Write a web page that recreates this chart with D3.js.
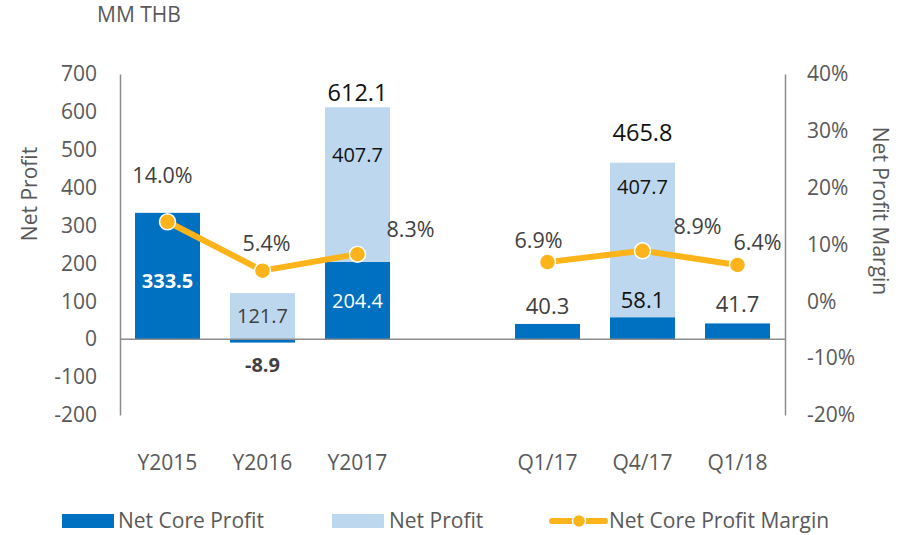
<!DOCTYPE html>
<html>
<head>
<meta charset="utf-8">
<script src="https://cdn.jsdelivr.net/npm/d3@7"></script>
<style>
  html, body { margin: 0; padding: 0; background: #fff; }
  svg { display: block; font-family: "Open Sans", sans-serif; }
</style>
</head>
<body>
<svg id="chart" width="904" height="535"></svg>
<script>
// Periods (the blank slot separates the yearly and quarterly groups)
const categories = ["Y2015", "Y2016", "Y2017", "", "Q1/17", "Q4/17", "Q1/18"];
// Net core profit (MM THB)
const netCoreProfit = [333.5, -8.9, 204.4, null, 40.3, 58.1, 41.7];
// Extra amount stacked on top to reach net profit
const netProfitExtra = [0, 121.7, 407.7, null, 0, 407.7, 0];
// Net profit totals shown above the stacks
const netProfitTotal = [null, null, 612.1, null, null, 465.8, null];
// Net core profit margin (%)
const coreMargin = [14.0, 5.4, 8.3, null, 6.9, 8.9, 6.4];
const leftTicks = [-200, -100, 0, 100, 200, 300, 400, 500, 600, 700];
const rightTicks = [-20, -10, 0, 10, 20, 30, 40];

const DARK = "#0070C0", LIGHT = "#BDD7EE", GOLD = "#FDB31A";
const AXIS = "#8c8c8c", TXT = "#595959";
const FS = 21;

const locale = d3.formatLocale({ decimal: ".", thousands: ",", grouping: [3], currency: ["", ""], minus: "-" });
const fmt = locale.format(".1f");
const fmtInt = locale.format("d");

const svg = d3.select("#chart");
const plotL = 120, plotR = 785, plotT = 74, plotB = 415;

const x = d3.scaleBand().domain(d3.range(categories.length)).range([plotL, plotR]).paddingInner(0.316).paddingOuter(0.158);
const y = d3.scaleLinear().domain([-200, 700]).range([plotB, plotT]);
const y2 = d3.scaleLinear().domain([-20, 40]).range([plotB, plotT]);
const cx = i => x(i) + x.bandwidth() / 2;

// Left axis
const gL = svg.append("g").attr("transform", `translate(${plotL},0)`)
  .call(d3.axisLeft(y).tickValues(leftTicks).tickSize(0).tickPadding(23).tickFormat(fmtInt));
gL.select(".domain").attr("stroke", AXIS).attr("stroke-width", 1.5);
gL.selectAll("text").attr("fill", TXT).style("font-size", FS + "px").style("font-family", "Open Sans");

// Right axis
const gR = svg.append("g").attr("transform", `translate(${plotR},0)`)
  .call(d3.axisRight(y2).tickValues(rightTicks).tickSize(0).tickPadding(22).tickFormat(d => fmtInt(d) + "%"));
gR.select(".domain").attr("stroke", AXIS).attr("stroke-width", 1.5);
gR.selectAll("text").attr("fill", TXT).style("font-size", FS + "px").style("font-family", "Open Sans");

// Category labels
svg.append("g").selectAll("text").data(categories).join("text")
  .attr("x", (d, i) => cx(i)).attr("y", 463).attr("dy", "0.35em")
  .attr("text-anchor", "middle").attr("fill", TXT).style("font-size", FS + "px")
  .text(d => d);

// Axis titles
svg.append("text").attr("transform", "translate(30,194) rotate(-90)")
  .attr("text-anchor", "middle").attr("dy", "0.35em").attr("fill", TXT).style("font-size", FS + "px").text("Net Profit");
svg.append("text").attr("transform", "translate(880,211) rotate(90)")
  .attr("text-anchor", "middle").attr("dy", "0.35em").attr("fill", TXT).style("font-size", FS + "px").text("Net Profit Margin");
svg.append("text").attr("x", 97).attr("y", 15).attr("dy", "0.35em")
  .attr("fill", TXT).style("font-size", FS + "px").text("MM THB");

// Bars
const idx = d3.range(categories.length).filter(i => netCoreProfit[i] !== null);
svg.append("g").selectAll("rect").data(idx).join("rect")
  .attr("x", i => x(i)).attr("width", x.bandwidth())
  .attr("y", i => y(Math.max(0, netCoreProfit[i])))
  .attr("height", i => Math.abs(y(netCoreProfit[i]) - y(0)))
  .attr("fill", DARK);
svg.append("g").selectAll("rect").data(idx.filter(i => netProfitExtra[i] > 0)).join("rect")
  .attr("x", i => x(i)).attr("width", x.bandwidth())
  .attr("y", i => y(Math.max(0, netCoreProfit[i]) + netProfitExtra[i]))
  .attr("height", i => y(0) - y(netProfitExtra[i]))
  .attr("fill", LIGHT);

// Zero line
svg.append("line").attr("x1", plotL).attr("x2", plotR).attr("y1", y(0)).attr("y2", y(0))
  .attr("stroke", AXIS).attr("stroke-width", 1.5);

// Net core profit labels: inside the bar for the yearly bars, outside for the rest
const coreStyle = {
  0: { pos: "mid", fill: "#ffffff", weight: "bold", dy: 5, size: 20 },
  1: { pos: "end", fill: "#404040", weight: "bold", dy: 22, size: 20 },
  2: { pos: "mid", fill: "#ffffff", weight: "normal", dy: 1, size: 20 },
  4: { pos: "end", fill: "#404040", weight: "normal", dy: -18, size: 22 },
  5: { pos: "end", fill: "#111111", weight: "normal", dy: -17, size: 22 },
  6: { pos: "end", fill: "#404040", weight: "normal", dy: -19, size: 22 }
};
svg.append("g").selectAll("text").data(idx).join("text")
  .attr("x", i => cx(i))
  .attr("y", i => (coreStyle[i].pos === "mid" ? y(netCoreProfit[i] / 2) : y(netCoreProfit[i])) + coreStyle[i].dy)
  .attr("dy", "0.35em").attr("text-anchor", "middle")
  .attr("fill", i => coreStyle[i].fill).style("font-weight", i => coreStyle[i].weight)
  .style("font-size", i => coreStyle[i].size + "px")
  .text(i => fmt(netCoreProfit[i]));

// Labels inside the light segments (fraction of the segment height)
const extraPos = { 1: 0.5, 2: 0.69, 5: 0.84 };
svg.append("g").selectAll("text").data(idx.filter(i => netProfitExtra[i] > 0)).join("text")
  .attr("x", i => cx(i))
  .attr("y", i => y(Math.max(0, netCoreProfit[i]) + netProfitExtra[i] * extraPos[i]))
  .attr("dy", "0.35em").attr("text-anchor", "middle")
  .attr("fill", i => i === 1 ? "#404040" : "#111").style("font-size", "20px")
  .text(i => fmt(netProfitExtra[i]));

// Totals above stacks
const totalGap = { 2: 15, 5: 30 };
svg.append("g").selectAll("text").data(idx.filter(i => netProfitTotal[i] !== null)).join("text")
  .attr("x", i => cx(i)).attr("y", i => y(netProfitTotal[i]) - totalGap[i])
  .attr("dy", "0.35em").attr("text-anchor", "middle").attr("fill", "#111").style("font-size", "23.5px")
  .text(i => fmt(netProfitTotal[i]));

// Margin line (two segments, broken at the blank slot)
const line = d3.line().defined(d => d.v !== null).x(d => cx(d.i)).y(d => y2(d.v));
const pts = coreMargin.map((v, i) => ({ i, v }));
svg.append("path").datum(pts).attr("d", line)
  .attr("fill", "none").attr("stroke", GOLD).attr("stroke-width", 6).attr("stroke-linejoin", "round");
svg.append("g").selectAll("circle").data(pts.filter(d => d.v !== null)).join("circle")
  .attr("cx", d => cx(d.i)).attr("cy", d => y2(d.v)).attr("r", 8)
  .attr("fill", GOLD).attr("stroke", "#fff").attr("stroke-width", 1.5);

// Margin labels, offset from each point
const marginOffsets = { 0: [-5, -46], 1: [4, -27], 2: [53, -25], 4: [-9, -22], 5: [55, -24], 6: [20, -22] };
svg.append("g").selectAll("text").data(pts.filter(d => d.v !== null)).join("text")
  .attr("x", d => cx(d.i) + marginOffsets[d.i][0])
  .attr("y", d => y2(d.v) + marginOffsets[d.i][1])
  .attr("dy", "0.35em").attr("text-anchor", "middle").attr("fill", "#404040").style("font-size", "21.5px")
  .text(d => fmt(d.v) + "%");

// Legend
const lg = svg.append("g").attr("transform", "translate(0,521)");
lg.append("rect").attr("x", 62).attr("y", -7).attr("width", 52).attr("height", 14).attr("fill", DARK);
lg.append("text").attr("x", 118).attr("dy", "0.35em").attr("fill", TXT).style("font-size", FS + "px").text("Net Core Profit");
lg.append("rect").attr("x", 332).attr("y", -7).attr("width", 52).attr("height", 14).attr("fill", LIGHT);
lg.append("text").attr("x", 389).attr("dy", "0.35em").attr("fill", TXT).style("font-size", FS + "px").text("Net Profit");
lg.append("line").attr("x1", 552).attr("x2", 605).attr("y1", 0).attr("y2", 0).attr("stroke", GOLD).attr("stroke-width", 6).attr("stroke-linecap", "round");
lg.append("circle").attr("cx", 579).attr("cy", 0).attr("r", 6.5).attr("fill", GOLD).attr("stroke", "#fff").attr("stroke-width", 1.5);
lg.append("text").attr("x", 609).attr("dy", "0.35em").attr("fill", TXT).style("font-size", FS + "px").text("Net Core Profit Margin");
</script>
</body>
</html>
